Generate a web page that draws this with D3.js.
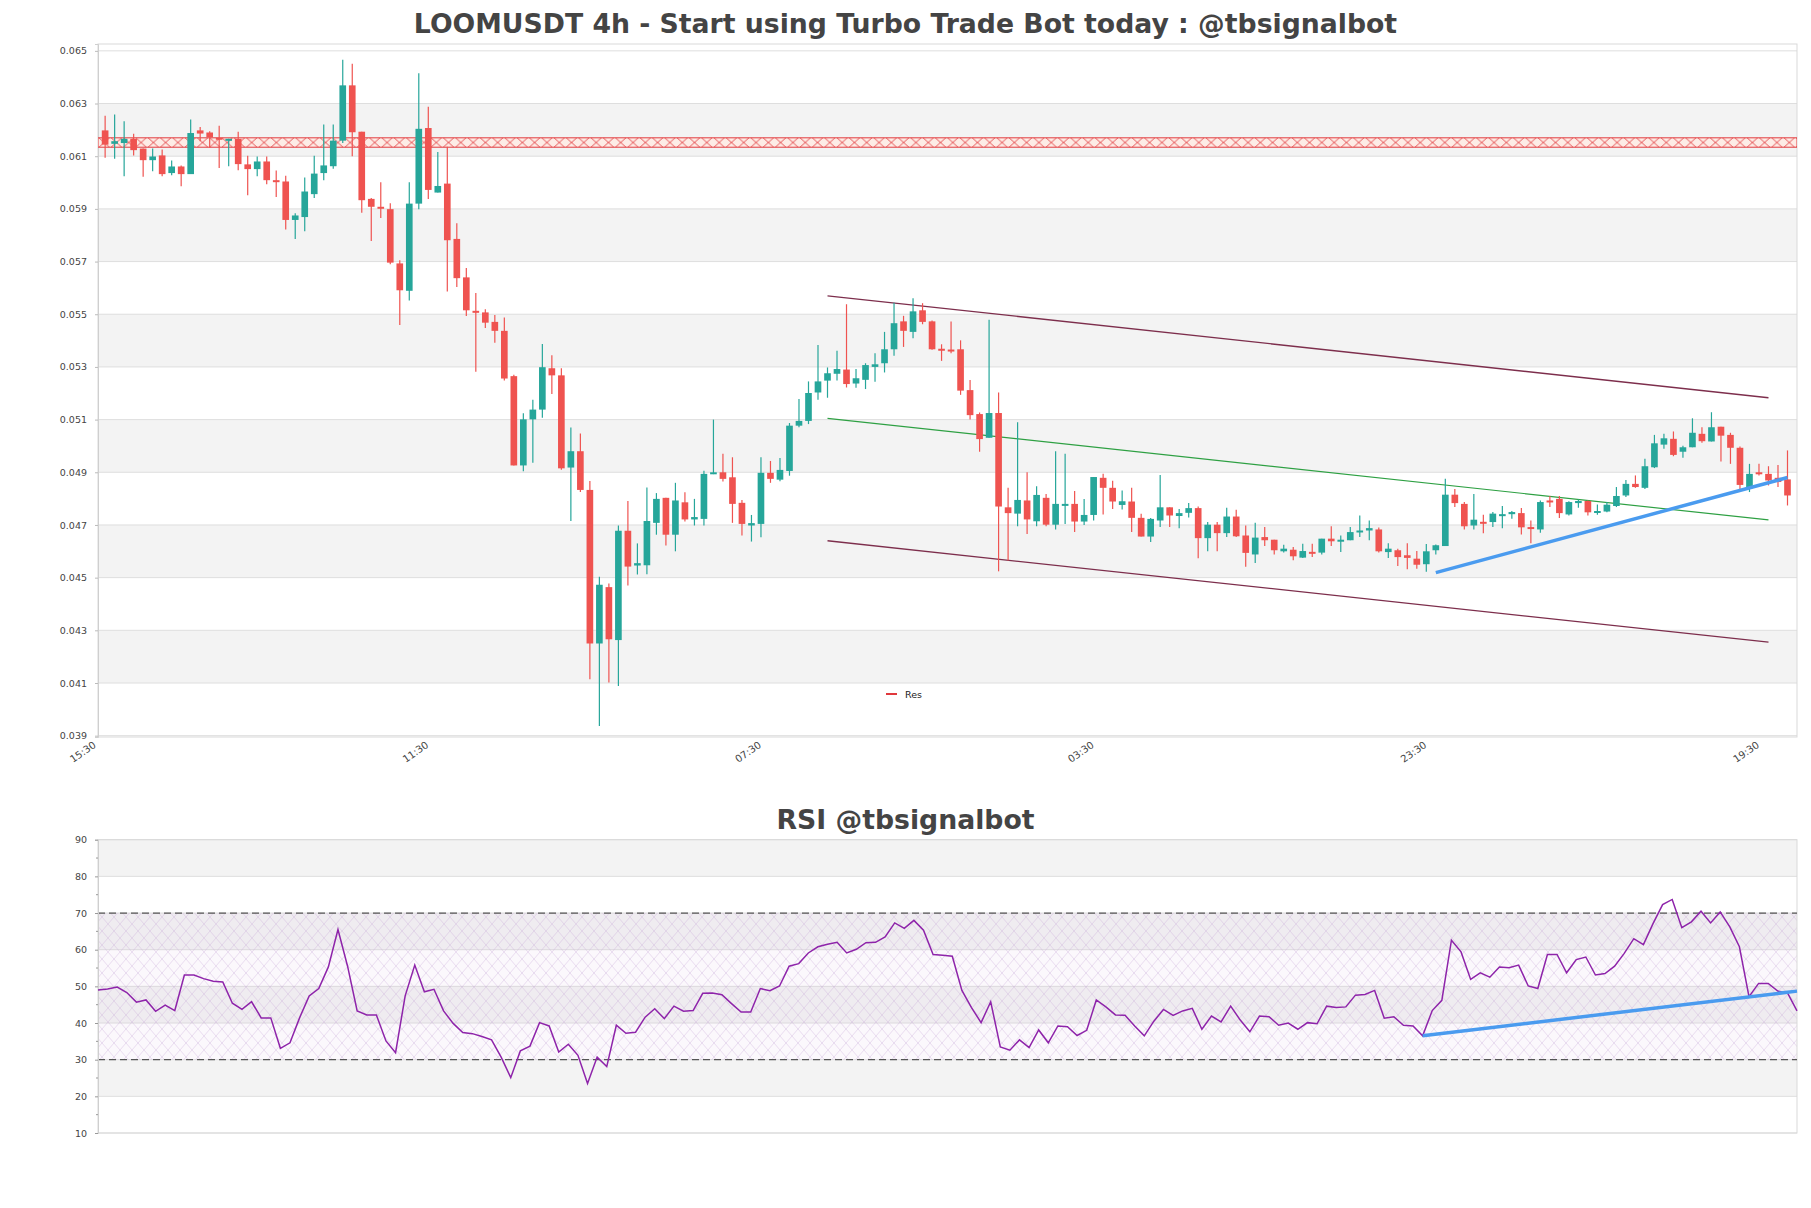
<!DOCTYPE html>
<html><head><meta charset="utf-8">
<script src="https://cdn.jsdelivr.net/npm/d3@7"></script>
<style>
body{margin:0;background:#fff;}
svg{display:block;font-family:"DejaVu Sans",sans-serif;}
</style></head><body>
<svg id="chart" width="1811" height="1208"></svg>
<script>
const opens = [
.06198,.06147,.06150,.06166,.06129,.06085,.06103,.06036,.06061,.06032,
.06198,.06190,.06170,.06161,.06166,.06069,.06051,.06080,.06009,.06004,
.05858,.05869,.05956,.06036,.06062,.06159,.06369,.06193,.05938,.05908,
.05899,.05693,.05589,.05920,.06207,.05962,.05996,.05786,.05640,.05513,
.05507,.05471,.05437,.05265,.04926,.05101,.05138,.05295,.05268,.04918,
.04980,.04833,.04250,.04464,.04263,.04678,.04546,.04547,.04708,.04803,
.04663,.04786,.04721,.04723,.04893,.04900,.04881,.04784,.04698,.04704,
.04898,.04872,.04905,.05077,.05095,.05203,.05248,.05274,.05290,.05237,
.05251,.05300,.05314,.05367,.05473,.05433,.05515,.05473,.05369,.05366,
.05367,.05212,.05121,.05031,.05125,.04767,.04743,.04793,.04714,.04803,
.04701,.04775,.04780,.04713,.04738,.04879,.04841,.04776,.04789,.04727,
.04656,.04717,.04767,.04734,.04746,.04764,.04650,.04701,.04669,.04732,
.04660,.04588,.04654,.04644,.04600,.04606,.04576,.04598,.04595,.04648,
.04638,.04642,.04673,.04679,.04683,.04597,.04604,.04585,.04572,.04551,
.04604,.04620,.04815,.04780,.04698,.04712,.04711,.04736,.04741,.04745,
.04692,.04683,.04793,.04799,.04740,.04783,.04791,.04749,.04751,.04772,
.04812,.04856,.04841,.04919,.05005,.05027,.04978,.04995,.05046,.05017,
.05073,.05042,.04993,.04839,.04900,.04894,.04879,.04873];
const highs = [
.06254,.06258,.06233,.06185,.06129,.06129,.06125,.06084,.06065,.06239,
.06211,.06195,.06216,.06166,.06193,.06102,.06099,.06099,.06046,.06026,
.05883,.06019,.06102,.06220,.06220,.06466,.06451,.06193,.05941,.06001,
.05921,.05705,.06001,.06415,.06288,.06116,.06136,.05845,.05676,.05581,
.05519,.05497,.05488,.05270,.05124,.05175,.05387,.05344,.05295,.05070,
.05047,.04867,.04503,.04478,.04698,.04791,.04630,.04842,.04821,.04803,
.04860,.04824,.04799,.04906,.05100,.04970,.04957,.04795,.04738,.04957,
.04943,.04954,.05087,.05178,.05245,.05383,.05298,.05361,.05538,.05292,
.05314,.05352,.05433,.05544,.05494,.05561,.05542,.05476,.05386,.05472,
.05401,.05250,.05127,.05479,.05203,.04841,.05090,.04900,.04847,.04818,
.04980,.04970,.04829,.04799,.04882,.04894,.04868,.04831,.04841,.04743,
.04726,.04890,.04767,.04761,.04783,.04770,.04711,.04711,.04765,.04758,
.04698,.04708,.04692,.04644,.04625,.04616,.04629,.04629,.04648,.04695,
.04660,.04692,.04736,.04717,.04690,.04631,.04610,.04631,.04601,.04628,
.04626,.04875,.04837,.04787,.04818,.04739,.04749,.04772,.04753,.04764,
.04717,.04793,.04810,.04810,.04790,.04797,.04793,.04778,.04787,.04844,
.04871,.04888,.04951,.05042,.05046,.05055,.05001,.05105,.05071,.05128,
.05073,.05050,.04998,.04932,.04932,.04923,.04928,.04983];
const lows = [
.06094,.06090,.06024,.06103,.06022,.06043,.06024,.06028,.05986,.06032,
.06157,.06132,.06055,.06062,.06047,.05952,.06024,.05994,.05945,.05822,
.05786,.05815,.05941,.06009,.06052,.06150,.06100,.05885,.05778,.05865,
.05690,.05459,.05552,.05899,.05938,.05962,.05586,.05603,.05493,.05282,
.05448,.05392,.05248,.04926,.04904,.04936,.05107,.05197,.04910,.04715,
.04825,.04114,.03937,.04102,.04089,.04470,.04512,.04513,.04663,.04622,
.04600,.04713,.04698,.04698,.04893,.04865,.04708,.04660,.04637,.04653,
.04860,.04866,.04887,.05071,.05083,.05175,.05183,.05248,.05222,.05221,
.05216,.05244,.05279,.05342,.05376,.05409,.05462,.05365,.05323,.05352,
.05194,.05100,.04978,.05031,.04524,.04565,.04695,.04666,.04695,.04695,
.04683,.04704,.04673,.04700,.04717,.04740,.04761,.04759,.04673,.04656,
.04635,.04692,.04692,.04688,.04728,.04574,.04600,.04600,.04654,.04654,
.04541,.04556,.04620,.04588,.04595,.04566,.04575,.04578,.04588,.04620,
.04597,.04642,.04654,.04642,.04595,.04575,.04544,.04532,.04534,.04522,
.04588,.04620,.04768,.04683,.04683,.04669,.04692,.04688,.04724,.04664,
.04631,.04670,.04768,.04726,.04736,.04765,.04736,.04739,.04748,.04768,
.04806,.04841,.04837,.04916,.04989,.04961,.04955,.04995,.05012,.05017,
.04941,.04932,.04834,.04825,.04888,.04850,.04844,.04774];
const closes = [
.06144,.06157,.06166,.06123,.06085,.06099,.06032,.06061,.06032,.06188,
.06186,.06172,.06166,.06166,.06070,.06051,.06080,.06009,.06007,.05858,
.05875,.05966,.06034,.06065,.06159,.06369,.06191,.05933,.05908,.05903,
.05696,.05591,.05920,.06204,.05972,.05987,.05781,.05637,.05515,.05507,
.05468,.05437,.05256,.04926,.05101,.05138,.05299,.05268,.04915,.04980,
.04833,.04250,.04473,.04266,.04678,.04542,.04555,.04715,.04799,.04663,
.04793,.04721,.04730,.04894,.04900,.04875,.04780,.04704,.04707,.04898,
.04875,.04909,.05077,.05095,.05201,.05245,.05276,.05292,.05235,.05257,
.05307,.05310,.05367,.05466,.05437,.05511,.05471,.05367,.05366,.05362,
.05210,.05117,.05026,.05125,.04770,.04745,.04795,.04721,.04814,.04701,
.04780,.04780,.04713,.04738,.04882,.04841,.04789,.04790,.04727,.04656,
.04723,.04767,.04736,.04745,.04764,.04650,.04701,.04669,.04732,.04657,
.04594,.04652,.04642,.04604,.04610,.04581,.04601,.04596,.04648,.04638,
.04644,.04673,.04679,.04688,.04600,.04610,.04578,.04575,.04549,.04600,
.04623,.04815,.04783,.04695,.04720,.04710,.04743,.04741,.04749,.04691,
.04688,.04787,.04789,.04745,.04787,.04791,.04748,.04753,.04777,.04810,
.04856,.04844,.04923,.05010,.05029,.04966,.04995,.05050,.05018,.05071,
.05039,.04993,.04852,.04894,.04894,.04869,.04863,.04812];
const rsiValues = [
49.0,49.3,49.8,48.3,45.7,46.3,43.2,44.9,43.4,53.1,
53.1,52.1,51.4,51.2,45.4,43.7,45.8,41.4,41.4,33.1,
34.6,41.4,47.4,49.4,55.3,65.5,55.5,43.3,42.2,42.2,
35.1,31.9,47.4,55.8,48.5,49.2,43.3,39.9,37.4,37.1,
36.3,35.4,30.7,25.1,32.4,33.7,40.1,39.2,32.1,34.2,
31.2,23.5,30.7,28.1,39.4,37.2,37.5,41.6,43.9,41.2,
44.6,43.2,43.4,48.1,48.2,47.7,45.3,43.0,43.0,49.4,
48.8,50.1,55.5,56.2,59.1,60.8,61.5,62.0,59.1,60.1,
61.9,62.0,63.5,67.3,65.8,68.0,65.3,58.7,58.5,58.2,
48.9,44.2,40.1,45.8,33.5,32.6,35.4,33.3,38.1,34.6,
39.2,39.0,36.6,38.0,46.3,44.4,42.2,42.1,39.2,36.5,
40.5,43.7,42.1,43.3,44.0,38.3,41.9,40.3,44.6,40.8,
37.6,41.9,41.7,39.4,40.0,38.3,40.1,39.8,44.6,44.2,
44.4,47.6,47.8,48.9,41.3,41.7,39.4,39.2,36.5,43.4,
46.2,62.6,59.4,51.9,53.7,52.5,55.3,55.1,55.8,50.1,
49.4,58.7,58.7,53.7,57.3,58.0,53.1,53.5,55.5,59.0,
63.0,61.4,67.1,72.3,73.7,66.0,67.6,70.5,67.3,70.3,
66.2,60.8,47.2,50.8,50.8,48.7,48.3,43.3];
const xTickIndex = [0, 35, 70, 105, 140, 175];
const xTickLabels = ["15:30", "11:30", "07:30", "03:30", "23:30", "19:30"];
const priceTicks = [0.039,0.041,0.043,0.045,0.047,0.049,0.051,0.053,0.055,0.057,0.059,0.061,0.063,0.065];
const rsiTicks = [10,20,30,40,50,60,70,80,90];
const resLevel = 0.06152;
const channelIdx = [76, 175];
const channelUpper = [0.05570, 0.05183];
const channelMid = [0.05105, 0.04719];
const channelLower = [0.04640, 0.04255];
const trendIdx = [140, 177];
const trendPrice = [0.04519, 0.04880];
const rsiTrendIdx = [138, 177];
const rsiTrendVal = [36.5, 48.7];
const rsiBands = [30, 70];

const svg = d3.select("#chart");
const mainL = 98, mainR = 1797, mainT = 44, mainB = 737;
const rsiT = 839.7, rsiB = 1133;
const n = opens.length;
const x = d3.scaleLinear().domain([-0.75, n]).range([mainL, mainR]);
const y = d3.scaleLinear().domain([0.03895, 0.06526]).range([mainB, mainT]);
const xr = d3.scaleLinear().domain([0, n - 1]).range([mainL, mainR]);
const yr = d3.scaleLinear().domain([10, 90]).range([rsiB, rsiT]);
const step = x(1) - x(0);
const grey = "#f3f3f3", gridC = "#dedede", textC = "#444";

const defs = svg.append("defs");
defs.append("clipPath").attr("id","mainClip").append("rect")
  .attr("x",mainL).attr("y",mainT).attr("width",mainR-mainL).attr("height",mainB-mainT);
const bandH = 9.4;
const resPat = defs.append("pattern").attr("id","resHatch").attr("patternUnits","userSpaceOnUse")
  .attr("x", mainL).attr("y", y(resLevel)-bandH/2).attr("width",12.3).attr("height",bandH);
resPat.append("rect").attr("width",12.3).attr("height",bandH).attr("fill","#fdece6");
resPat.append("path").attr("d",`M1,0L11.3,${bandH}M1,${bandH}L11.3,0`).attr("stroke","#e23b3f").attr("stroke-width",0.9).attr("fill","none");
const rsiPat = defs.append("pattern").attr("id","rsiHatch").attr("patternUnits","userSpaceOnUse")
  .attr("width",12).attr("height",14);
rsiPat.append("path").attr("d","M0,0L12,14M0,14L12,0").attr("stroke","#c9a6d6").attr("stroke-width",0.5).attr("opacity",0.7).attr("fill","none");

// Title
svg.append("text").attr("x",905.5).attr("y",32.5).attr("text-anchor","middle")
  .attr("font-size",26.7).attr("font-weight","bold").attr("fill",textC)
  .text("LOOMUSDT 4h - Start using Turbo Trade Bot today : @tbsignalbot");

// Main background bands
const gMain = svg.append("g");
for (let k = 0; k < priceTicks.length - 1; k++) {
  if (k % 2 === 1) {
    gMain.append("rect").attr("x",mainL).attr("width",mainR-mainL)
      .attr("y",y(priceTicks[k+1])).attr("height",y(priceTicks[k])-y(priceTicks[k+1])).attr("fill",grey);
  }
}
gMain.selectAll(".hg").data(priceTicks).join("line")
  .attr("x1",mainL).attr("x2",mainR).attr("y1",d=>y(d)).attr("y2",d=>y(d))
  .attr("stroke",gridC).attr("stroke-width",1);
gMain.append("rect").attr("x",mainL).attr("y",mainT).attr("width",mainR-mainL).attr("height",mainB-mainT)
  .attr("fill","none").attr("stroke","#d9d9d9");

// Y axis
const yAxis = d3.axisLeft(y).tickValues(priceTicks).tickFormat(d3.format(".3f")).tickSize(3).tickPadding(8);
const gy = svg.append("g").attr("transform",`translate(${mainL},0)`).call(yAxis);
gy.select(".domain").attr("stroke","#cfcfcf");
gy.selectAll(".tick line").attr("stroke","#bbb");
gy.selectAll("text").attr("font-size",9.5).attr("fill",textC).attr("font-family","DejaVu Sans");

// X axis
const xAxis = d3.axisBottom(x).tickValues(xTickIndex).tickFormat((d,i)=>xTickLabels[i]).tickSize(0);
const gx = svg.append("g").attr("transform",`translate(0,${mainB})`).call(xAxis);
gx.select(".domain").remove();
gx.selectAll("text").attr("font-size",10).attr("fill",textC).attr("font-family","DejaVu Sans")
  .attr("text-anchor","end").attr("dy",null).attr("y",0)
  .attr("transform","translate(-9,9.5) rotate(-35)");

// Res band
const gPlot = svg.append("g").attr("clip-path","url(#mainClip)");
gPlot.append("rect").attr("x",mainL).attr("width",mainR-mainL)
  .attr("y",y(resLevel)-bandH/2).attr("height",bandH)
  .attr("fill","url(#resHatch)").attr("stroke","#e23b3f").attr("stroke-width",1);

// Channel lines
const line2 = (vals, col, w) => gPlot.append("line")
  .attr("x1",x(channelIdx[0])).attr("x2",x(channelIdx[1]))
  .attr("y1",y(vals[0])).attr("y2",y(vals[1]))
  .attr("stroke",col).attr("stroke-width",w);
line2(channelUpper,"#7d2e4c",1.3);
line2(channelLower,"#7d2e4c",1.3);
line2(channelMid,"#2ea043",1.2);

// Candles
const idx = d3.range(n);
const bodyW = step * 0.7;
gPlot.selectAll(".wick").data(idx).join("line")
  .attr("x1",i=>x(i)).attr("x2",i=>x(i))
  .attr("y1",i=>y(highs[i])).attr("y2",i=>y(lows[i]))
  .attr("stroke",i=>closes[i]>=opens[i]?"#26a69a":"#ef5350").attr("stroke-width",1.2);
gPlot.selectAll(".body").data(idx).join("rect")
  .attr("x",i=>x(i)-bodyW/2).attr("width",bodyW)
  .attr("y",i=>y(Math.max(opens[i],closes[i])))
  .attr("height",i=>Math.max(2,Math.abs(y(opens[i])-y(closes[i]))))
  .attr("fill",i=>closes[i]>=opens[i]?"#26a69a":"#ef5350");

// Blue trend line
gPlot.append("line").attr("x1",x(trendIdx[0])).attr("x2",x(trendIdx[1]))
  .attr("y1",y(trendPrice[0])).attr("y2",y(trendPrice[1]))
  .attr("stroke","#4a9bef").attr("stroke-width",3.5).attr("stroke-linecap","butt");

// Legend
svg.append("line").attr("x1",886).attr("x2",897).attr("y1",694).attr("y2",694).attr("stroke","#e0383c").attr("stroke-width",2);
svg.append("text").attr("x",905).attr("y",697.5).attr("font-size",9.5).attr("fill","#222").text("Res");

// RSI title
svg.append("text").attr("x",905.5).attr("y",829).attr("text-anchor","middle")
  .attr("font-size",26.7).attr("font-weight","bold").attr("fill",textC).text("RSI @tbsignalbot");

// RSI bands
const gR = svg.append("g");
for (let k = 0; k < rsiTicks.length - 1; k++) {
  if (k % 2 === 1) {
    gR.append("rect").attr("x",mainL).attr("width",mainR-mainL)
      .attr("y",yr(rsiTicks[k+1])).attr("height",yr(rsiTicks[k])-yr(rsiTicks[k+1])).attr("fill",grey);
  }
}
gR.selectAll(".rg").data(rsiTicks).join("line")
  .attr("x1",mainL).attr("x2",mainR).attr("y1",d=>yr(d)).attr("y2",d=>yr(d))
  .attr("stroke",gridC);
gR.append("rect").attr("x",mainL).attr("width",mainR-mainL)
  .attr("y",yr(rsiBands[1])).attr("height",yr(rsiBands[0])-yr(rsiBands[1]))
  .attr("fill","#b48ac8").attr("fill-opacity",0.06);
gR.append("rect").attr("x",mainL).attr("width",mainR-mainL)
  .attr("y",yr(rsiBands[1])).attr("height",yr(rsiBands[0])-yr(rsiBands[1]))
  .attr("fill","url(#rsiHatch)");
gR.append("rect").attr("x",mainL).attr("y",rsiT).attr("width",mainR-mainL).attr("height",rsiB-rsiT)
  .attr("fill","none").attr("stroke","#d9d9d9");
gR.selectAll(".dl").data(rsiBands).join("line")
  .attr("x1",mainL).attr("x2",mainR).attr("y1",d=>yr(d)).attr("y2",d=>yr(d))
  .attr("stroke","#555").attr("stroke-width",1.2).attr("stroke-dasharray","7,4");

// RSI axis
const rAxis = d3.axisLeft(yr).tickValues(rsiTicks).tickSize(3).tickPadding(8);
const gra = svg.append("g").attr("transform",`translate(${mainL},0)`).call(rAxis);
gra.select(".domain").attr("stroke","#cfcfcf");
gra.selectAll(".tick line").attr("stroke","#999");
gra.selectAll("text").attr("font-size",9.5).attr("fill",textC).attr("font-family","DejaVu Sans");
const minor = d3.range(15, 90, 10);
svg.append("g").selectAll("line").data(minor).join("line")
  .attr("x1",mainL-2).attr("x2",mainL).attr("y1",d=>yr(d)).attr("y2",d=>yr(d)).attr("stroke","#999");

// RSI line
const rsiLine = d3.line().x((d,i)=>xr(i)).y(d=>yr(d));
svg.append("path").datum(rsiValues).attr("d",rsiLine)
  .attr("fill","none").attr("stroke","#8e24aa").attr("stroke-width",1.5);
svg.append("line").attr("x1",xr(rsiTrendIdx[0])).attr("x2",xr(rsiTrendIdx[1]))
  .attr("y1",yr(rsiTrendVal[0])).attr("y2",yr(rsiTrendVal[1]))
  .attr("stroke","#4a9bef").attr("stroke-width",3.5);
</script>
</body></html>
